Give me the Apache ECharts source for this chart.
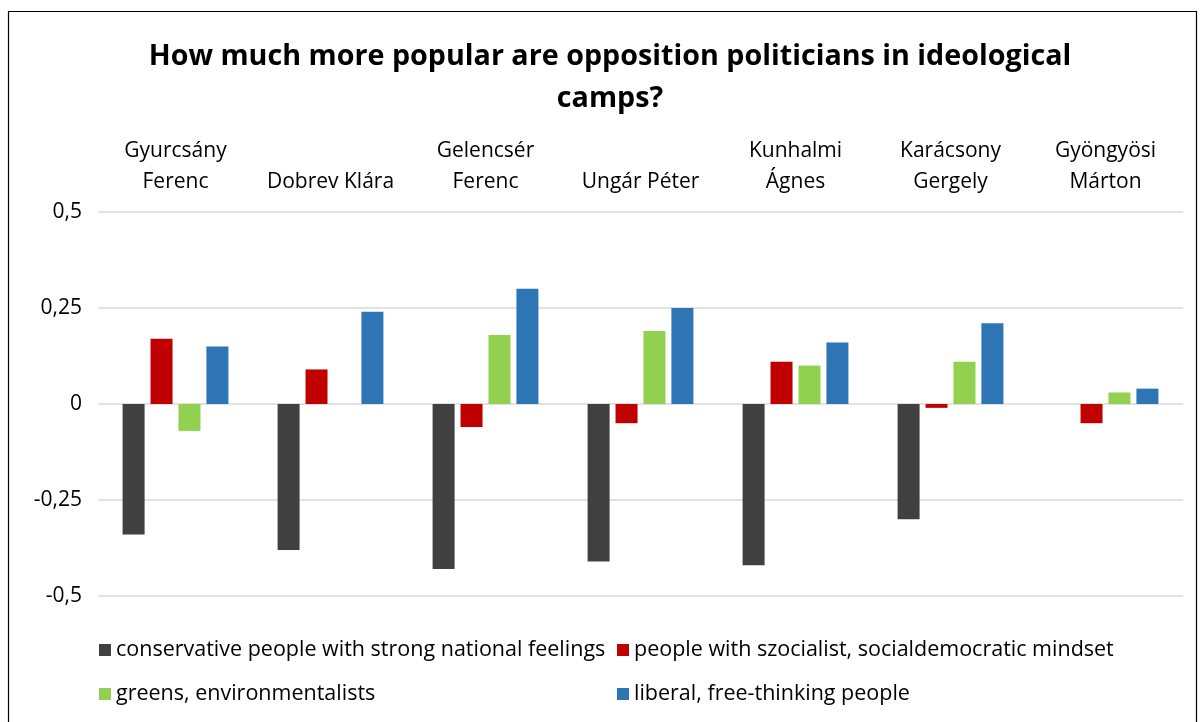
<!DOCTYPE html>
<html>
<head>
<meta charset="utf-8">
<script src="https://cdn.jsdelivr.net/npm/echarts@6/dist/echarts.min.js"></script>
<style>
  html, body { margin: 0; padding: 0; background: #fff; }
  #chart { width: 1200px; height: 722px; }
</style>
</head>
<body>
<div id="chart"></div>
<script>
// Politicians (category axis, shown along the top)
const politicians = [
  'Gyurcsány\nFerenc', 'Dobrev Klára', 'Gelencsér\nFerenc', 'Ungár Péter',
  'Kunhalmi\nÁgnes', 'Karácsony\nGergely', 'Gyöngyösi\nMárton'
];

// Ideological camps (series)
const campNames = [
  'conservative people with strong national feelings',
  'people with szocialist, socialdemocratic mindset',
  'greens, environmentalists',
  'liberal, free-thinking people'
];

const conservative = [-0.34, -0.38, -0.43, -0.41, -0.42, -0.30, 0];
const socialist    = [0.17, 0.09, -0.06, -0.05, 0.11, -0.01, -0.05];
const greens       = [-0.07, 0, 0.18, 0.19, 0.10, 0.11, 0.03];
const liberal      = [0.15, 0.24, 0.30, 0.25, 0.16, 0.21, 0.04];

// Value axis ticks and their labels (decimal comma)
const yTicks = [-0.5, -0.25, 0, 0.25, 0.5];
const yTickLabels = ['-0,5', '-0,25', '0', '0,25', '0,5'];

const chartTitle = 'How much more popular are opposition politicians in ideological\ncamps?';

const campColors = ['#404040', '#C00000', '#92D050', '#2E75B6'];
const seriesData = [conservative, socialist, greens, liberal];

const FONT = '"Open Sans"';

const chart = echarts.init(document.getElementById('chart'), null, { renderer: 'canvas' });

const series = campNames.map((name, i) => ({
  name: name,
  type: 'bar',
  data: seriesData[i],
  barWidth: 22,
  barGap: '27%',
  itemStyle: { color: campColors[i] },
  emphasis: { disabled: true }
}));

const legendBase = {
  orient: 'vertical',
  padding: 0,
  itemWidth: 12,
  itemHeight: 12,
  itemGap: 20,
  icon: 'rect',
  textStyle: { fontFamily: FONT, fontSize: 21.5, color: '#000', lineHeight: 24 },
  selectedMode: false
};

chart.setOption({
  animation: false,
  textStyle: { fontFamily: FONT },
  legend: [
    Object.assign({}, legendBase, { left: 99, top: 638, data: [campNames[0], campNames[2]] }),
    Object.assign({}, legendBase, { left: 617, top: 638, data: [campNames[1], campNames[3]] })
  ],
  grid: { left: 98, right: 17, top: 212, bottom: 126, containLabel: false },
  xAxis: {
    type: 'category',
    position: 'top',
    data: politicians,
    axisLine: { show: false },
    axisTick: { show: false },
    axisLabel: {
      fontFamily: FONT, fontSize: 21, color: '#000', lineHeight: 31, margin: 14, interval: 0
    },
    splitLine: { show: false }
  },
  yAxis: {
    type: 'value',
    min: -0.5,
    max: 0.5,
    interval: 0.25,
    axisLine: { show: false },
    axisTick: { show: false },
    axisLabel: {
      fontFamily: FONT, fontSize: 21, color: '#000', margin: 16,
      formatter: v => {
        const k = yTicks.findIndex(t => Math.abs(t - v) < 1e-9);
        return k >= 0 ? yTickLabels[k] : '';
      }
    },
    splitLine: { lineStyle: { color: '#d9d9d9', width: 1.5 } }
  },
  graphic: [{
    type: 'polyline',
    shape: { points: [[8.5, 722], [8.5, 11.5], [1196.5, 11.5], [1196.5, 722]] },
    style: { stroke: '#000', lineWidth: 1.2, fill: null },
    silent: true
  }, {
    type: 'text',
    x: 610,
    y: 36,
    style: {
      text: chartTitle,
      textAlign: 'center',
      textVerticalAlign: 'top',
      font: 'bold 28.7px "Open Sans"',
      lineHeight: 42,
      fill: '#000'
    },
    silent: true
  }],
  series: series
});
</script>
</body>
</html>
